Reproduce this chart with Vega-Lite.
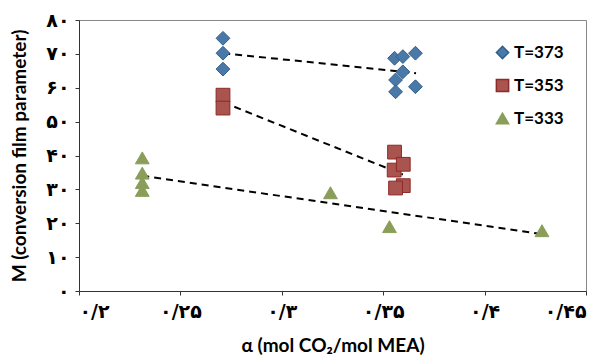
{
  "$schema": "https://vega.github.io/schema/vega-lite/v6.json",
  "width": 507,
  "height": 271,
  "autosize": {"type": "none"},
  "padding": {"left": 79, "top": 20, "right": 25, "bottom": 67},
  "background": "white",
  "config": {
    "view": {"stroke": "#888888", "strokeWidth": 1},
    "axis": {"grid": false, "domainColor": "#333333", "tickColor": "#333333", "tickSize": 4, "domainWidth": 1}
  },
  "datasets": {
    "pts": [
      {"series": "T=373", "a": 0.271, "m": 74.6},
      {"series": "T=373", "a": 0.271, "m": 70.2},
      {"series": "T=373", "a": 0.271, "m": 65.5},
      {"series": "T=373", "a": 0.3556, "m": 68.7},
      {"series": "T=373", "a": 0.3597, "m": 69.2},
      {"series": "T=373", "a": 0.3659, "m": 70.2},
      {"series": "T=373", "a": 0.3597, "m": 64.7},
      {"series": "T=373", "a": 0.3561, "m": 62.3},
      {"series": "T=373", "a": 0.3561, "m": 58.8},
      {"series": "T=373", "a": 0.3659, "m": 60.3},
      {"series": "T=353", "a": 0.271, "m": 57.8},
      {"series": "T=353", "a": 0.271, "m": 54.0},
      {"series": "T=353", "a": 0.3556, "m": 41.0},
      {"series": "T=353", "a": 0.3554, "m": 35.7},
      {"series": "T=353", "a": 0.3599, "m": 37.4},
      {"series": "T=353", "a": 0.3599, "m": 31.1},
      {"series": "T=353", "a": 0.3561, "m": 30.4},
      {"series": "T=333", "a": 0.2312, "m": 39.3},
      {"series": "T=333", "a": 0.2312, "m": 34.8},
      {"series": "T=333", "a": 0.2312, "m": 32.0},
      {"series": "T=333", "a": 0.2312, "m": 29.7},
      {"series": "T=333", "a": 0.324, "m": 29.0},
      {"series": "T=333", "a": 0.3531, "m": 19.0},
      {"series": "T=333", "a": 0.4283, "m": 17.8}
    ],
    "trend": [
      {"series": "T=373", "a": 0.2711, "m": 70.2},
      {"series": "T=373", "a": 0.3662, "m": 64.3},
      {"series": "T=353", "a": 0.2711, "m": 55.7},
      {"series": "T=353", "a": 0.3597, "m": 34.4},
      {"series": "T=333", "a": 0.2312, "m": 34.0},
      {"series": "T=333", "a": 0.4283, "m": 16.8}
    ]
  },
  "encoding": {
    "x": {
      "field": "a", "type": "quantitative",
      "scale": {"domain": [0.2, 0.45], "nice": false, "zero": false},
      "axis": {
        "values": [0.2, 0.25, 0.3, 0.35, 0.4, 0.45],
        "labelExpr": "round(datum.value*100)==20 ? '۰/۲' : round(datum.value*100)==25 ? '۰/۲۵' : round(datum.value*100)==30 ? '۰/۳' : round(datum.value*100)==35 ? '۰/۳۵' : round(datum.value*100)==40 ? '۰/۴' : '۰/۴۵'",
        "labelFont": "DejaVu Sans", "labelFontWeight": "bold", "labelFontSize": 19, "labelColor": "#000000",
        "labelPadding": 7,
        "title": "α (mol CO₂/mol MEA)",
        "titleFont": "Lato", "titleFontWeight": "bold", "titleFontSize": 19, "titleColor": "#000000",
        "titlePadding": 15
      }
    },
    "y": {
      "field": "m", "type": "quantitative",
      "scale": {"domain": [0, 80], "nice": false},
      "axis": {
        "values": [0, 10, 20, 30, 40, 50, 60, 70, 80],
        "labelExpr": "replace(replace(replace(replace(replace(replace(replace(replace(replace(format(datum.value,'d'),'0','۰'),'1','۱'),'2','۲'),'3','۳'),'4','۴'),'5','۵'),'6','۶'),'7','۷'),'8','۸')",
        "labelFont": "DejaVu Sans", "labelFontWeight": "bold", "labelFontSize": 19, "labelColor": "#000000",
        "labelPadding": 6,
        "title": "M (conversion film parameter)",
        "titleFont": "Lato", "titleFontWeight": "bold", "titleFontSize": 19, "titleColor": "#000000",
        "titlePadding": 16
      }
    }
  },
  "layer": [
    {
      "data": {"name": "trend"},
      "mark": {"type": "line", "color": "#000000", "strokeWidth": 2, "strokeDash": [7, 5]},
      "encoding": {"detail": {"field": "series"}}
    },
    {
      "data": {"name": "pts"},
      "mark": {"type": "point", "filled": true, "size": 190, "strokeWidth": 1, "opacity": 1},
      "encoding": {
        "shape": {
          "field": "series", "type": "nominal",
          "scale": {"domain": ["T=373", "T=353", "T=333"], "range": ["diamond", "square", "triangle-up"]},
          "legend": {
            "title": null, "orient": "none", "legendX": 415, "legendY": 24,
            "padding": 0, "rowPadding": 14, "symbolSize": 150, "symbolStrokeWidth": 1.5,
            "labelFont": "Lato", "labelFontWeight": "bold", "labelFontSize": 17, "labelColor": "#000000", "labelOffset": 3
          }
        },
        "color": {
          "field": "series", "type": "nominal",
          "scale": {"domain": ["T=373", "T=353", "T=333"], "range": ["#4a79a8", "#a9544f", "#8a9e5a"]},
          "legend": {
            "title": null, "orient": "none", "legendX": 415, "legendY": 24,
            "padding": 0, "rowPadding": 14, "symbolSize": 150,
            "labelFont": "Lato", "labelFontWeight": "bold", "labelFontSize": 17, "labelColor": "#000000", "labelOffset": 3
          }
        },
        "stroke": {
          "field": "series", "type": "nominal",
          "scale": {"domain": ["T=373", "T=353", "T=333"], "range": ["#2f5f8c", "#8e2a27", "#8a9e5a"]},
          "legend": {
            "title": null, "orient": "none", "legendX": 415, "legendY": 24,
            "padding": 0, "rowPadding": 14, "symbolSize": 150,
            "labelFont": "Lato", "labelFontWeight": "bold", "labelFontSize": 17, "labelColor": "#000000", "labelOffset": 3
          }
        }
      }
    }
  ]
}
